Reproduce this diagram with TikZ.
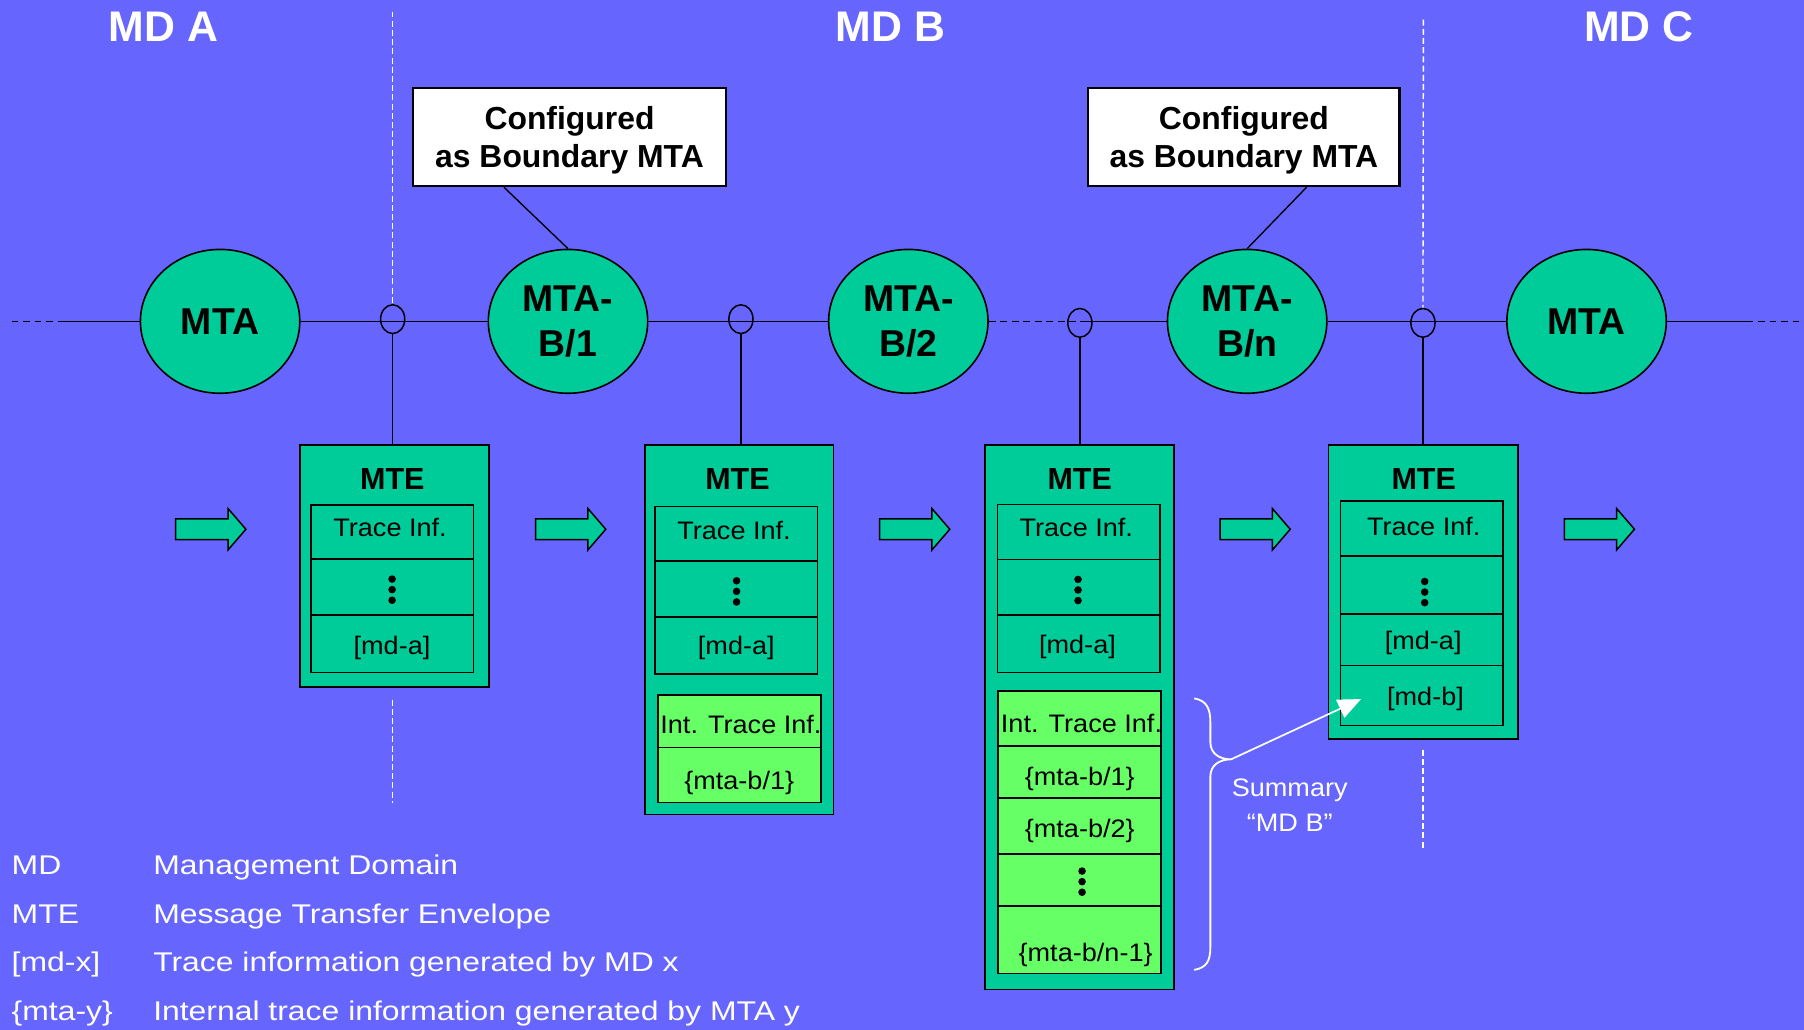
\documentclass[tikz,border=0pt]{standalone}
\usepackage{fontspec}
\setmainfont{Liberation Sans}
\newfontfamily\fA{Liberation Sans}[FakeStretch=1.07]
\newfontfamily\fB{Liberation Sans}[FakeStretch=1.18]
\usetikzlibrary{calc,shapes.geometric,arrows.meta}
\definecolor{bgblue}{HTML}{6666FF}
\definecolor{mgreen}{HTML}{00CC99}
\definecolor{lgreen}{HTML}{66FF66}
\tikzset{
  conn/.style={draw=black, line width=1.3pt},
  bound/.style={draw=white, line width=1.2pt, dash pattern=on 5.2pt off 2.8pt},
  mta/.style={ellipse, draw=black, line width=1.4pt, fill=mgreen, minimum width=138.5pt, minimum height=125pt, inner sep=0pt, align=center, font=\fontsize{32.5}{39}\selectfont\bfseries},
  knot/.style={ellipse, draw=black, line width=1.3pt, minimum width=21pt, minimum height=25pt, inner sep=0pt},
  callout/.style={rectangle, draw=black, line width=1.9pt, fill=white, inner sep=0pt, align=center, text depth=0pt, font=\fontsize{27.7}{32.5}\selectfont\bfseries},
  mtebox/.style={rectangle, draw=black, line width=1.5pt, fill=mgreen, inner sep=0pt},
  cellbox/.style={rectangle, draw=black, line width=1.5pt, fill=mgreen, inner sep=0pt},
  icellbox/.style={cellbox, fill=lgreen},
  ctext/.style={inner sep=0pt, font=\fA\fontsize{22}{26}\selectfont, text height=15.75pt, text depth=0pt},
  mtelabel/.style={inner sep=0pt, font=\fontsize{26.5}{30}\selectfont\bfseries, text height=19pt, text depth=0pt},
  title/.style={inner sep=0pt, text=white, font=\fontsize{37.2}{42}\selectfont\bfseries, text height=26.6pt, text depth=0pt},
  legl/.style={anchor=west, inner sep=0pt, text=white, font=\fB\fontsize{23.5}{28}\selectfont, text height=16.8pt, text depth=0pt},
  sumtext/.style={inner sep=0pt, text=white, font=\fA\fontsize{22}{26}\selectfont, text height=15.75pt, text depth=0pt},
  barrow/.style={draw=black, line width=1.3pt, fill=mgreen, line join=miter},
}
\newcommand\rectnode[6]{%
  \node[#1, minimum width={(#5)-(#3)}, minimum height={(#6)-(#4)}] (#2) at ({((#3)+(#5))/2},{((#4)+(#6))/2}) {};}
\newcommand\blockarrow[1]{%
  \filldraw[barrow] (#1,451) -- ++(45.5,0) -- ++(0,-9) -- ++(15.5,18) -- ++(-15.5,18) -- ++(0,-9) -- ++(-45.5,0) -- cycle;}
\newcommand\threedots[2]{%
  \fill[black] (#1,#2-9.2) circle (3.3pt);
  \fill[black] (#1,#2) circle (3.3pt);
  \fill[black] (#1,#2+9.2) circle (3.3pt);}
\begin{document}
\begin{tikzpicture}[x=1pt,y=-1pt]
\useasboundingbox (0,0) rectangle (1568,895);
\fill[bgblue] (0,0) rectangle (1568,895);

% titles
\node[title] (tA) at (142,22.9) {MD A};
\node[title] (tB) at (774,22.9) {MD B};
\node[title] (tC) at (1424.5,22.9) {MD C};

% MTA ellipses
\node[mta] (mtaA) at (191.3,279.3) {MTA};
\node[mta] (mtab1) at (493.7,279.3) {MTA-\\B/1};
\node[mta] (mtab2) at (789.5,279.3) {MTA-\\B/2};
\node[mta] (mtabn) at (1084,279.3) {MTA-\\B/n};
\node[mta] (mtaC) at (1379,279.3) {MTA};

% knots on the line
\node[knot] (k1) at (341.3,277.4) {};
\node[knot] (k2) at (644,277.4) {};
\node[knot] (k3) at (938.6,280.6) {};
\node[knot] (k4) at (1236.8,280.6) {};

% main line
\coordinate (l0) at (10,279.3);
\coordinate (l1) at (55,279.3);
\coordinate (r1) at (1518,279.3);
\coordinate (r2) at (1568,279.3);
\draw[conn, dash pattern=on 6pt off 4pt] (l0) -- (l1);
\draw[conn] (l1) -- (mtaA.west);
\draw[conn] (mtaA.east) -- (mtab1.west);
\draw[conn] (mtab1.east) -- (mtab2.west);
\draw[conn, dash pattern=on 6pt off 4pt] (mtab2.east) -- (mtab2.east -| k3.center);
\draw[conn] (mtab2.east -| k3.center) -- (mtabn.west);
\draw[conn] (mtabn.east) -- (mtaC.west);
\draw[conn] (mtaC.east) -- (r1);
\draw[conn, dash pattern=on 6pt off 4pt] (r1) -- (r2);

% domain boundaries
\coordinate (d1top) at (341.3,10);
\coordinate (d1a) at (341,608);
\coordinate (d1b) at (341,698);
\coordinate (d2top) at (1237.2,17);
\coordinate (d2a) at (1236.8,651.5);
\coordinate (d2b) at (1236.8,738);
\draw[bound] (d1top) -- (k1.north);
\draw[bound] (d1a) -- (d1b);
\draw[bound] (d2top) -- (k4.north);
\draw[bound] (d2a) -- (d2b);

% callouts
\node[callout, minimum width=272.5pt, minimum height=85.5pt] (cfg1) at (495,119) {Configured\\as Boundary MTA};
\node[callout, minimum width=270.4pt, minimum height=85.5pt] (cfg2) at (1081.2,119) {Configured\\as Boundary MTA};
\draw[black, line width=1.2pt] ($(cfg1.south)+(-57,0)$) -- (mtab1.north);
\draw[black, line width=1.2pt] ($(cfg2.south)+(54.5,0)$) -- (mtabn.north);

% MTE boxes
\rectnode{mtebox}{mte1}{261}{387}{425}{597}
\rectnode{mtebox}{mte2}{560.3}{387}{724.5}{708}
\rectnode{mtebox}{mte3}{856}{387}{1020.3}{860}
\rectnode{mtebox}{mte4}{1154.6}{387}{1319.4}{642.5}

% connectors knots -> MTE
\draw[conn] (k1.south) -- (k1.south |- mte1.north);
\draw[conn] (k2.south) -- (k2.south |- mte2.north);
\draw[conn] (k3.south) -- (k3.south |- mte3.north);
\draw[conn] (k4.south) -- (k4.south |- mte4.north);

% MTE 1 cells
\rectnode{cellbox}{m1a}{270}{439}{411.5}{486}
\rectnode{cellbox}{m1b}{270}{486}{411.5}{534.5}
\rectnode{cellbox}{m1c}{270}{534.5}{411.5}{584.5}
% MTE 2 cells
\rectnode{cellbox}{m2a}{569.3}{440.3}{710.5}{487.5}
\rectnode{cellbox}{m2b}{569.3}{487.5}{710.5}{536.1}
\rectnode{cellbox}{m2c}{569.3}{536.1}{710.5}{586}
\rectnode{icellbox}{m2d}{571.8}{604}{713.5}{649.8}
\rectnode{icellbox}{m2e}{571.8}{649.8}{713.5}{697.4}
% MTE 3 cells
\rectnode{cellbox}{m3a}{867}{438.6}{1008.3}{486.2}
\rectnode{cellbox}{m3b}{867}{486.2}{1008.3}{534.7}
\rectnode{cellbox}{m3c}{867}{534.7}{1008.3}{584.6}
\rectnode{icellbox}{m3d}{867.3}{600.3}{1009.3}{648.5}
\rectnode{icellbox}{m3e}{867.3}{648.5}{1009.3}{693.8}
\rectnode{icellbox}{m3f}{867.3}{693.8}{1009.3}{742.3}
\rectnode{icellbox}{m3g}{867.3}{742.3}{1009.3}{787.5}
\rectnode{icellbox}{m3h}{867.3}{787.5}{1009.3}{846.1}
% MTE 4 cells
\rectnode{cellbox}{m4a}{1165.1}{435.3}{1306.4}{483.5}
\rectnode{cellbox}{m4b}{1165.1}{483.5}{1306.4}{533.4}
\rectnode{cellbox}{m4c}{1165.1}{533.4}{1306.4}{578.4}
\rectnode{cellbox}{m4d}{1165.1}{578.4}{1306.4}{630.5}

% MTE texts
\node[mtelabel] (lab1) at (341,415.8) {MTE};
\node[mtelabel] (lab2) at (641,415.8) {MTE};
\node[mtelabel] (lab3) at (938.5,415.8) {MTE};
\node[mtelabel] (lab4) at (1237.5,415.8) {MTE};

\node[ctext] (t1a) at (339,458) {Trace Inf.};
\threedots{340.8}{512.5}
\node[ctext] (t1c) at (340.7,560.6) {[md-a]};

\node[ctext] (t2a) at (638,461) {Trace Inf.};
\threedots{640.2}{514}
\node[ctext] (t2c) at (640,561) {[md-a]};
\node[ctext] (t2d) at (644,630) {Int. Trace Inf.};
\node[ctext] (t2e) at (642.5,678) {\{mta-b/1\}};

\node[ctext] (t3a) at (935.5,458) {Trace Inf.};
\threedots{937}{512.8}
\node[ctext] (t3c) at (936.5,560.5) {[md-a]};
\node[ctext] (t3d) at (940,629.2) {Int. Trace Inf.};
\node[ctext] (t3e) at (938.5,674.8) {\{mta-b/1\}};
\node[ctext] (t3f) at (938.5,719.7) {\{mta-b/2\}};
\threedots{940.5}{766.3}
\node[ctext] (t3h) at (943.6,827.8) {\{mta-b/n-1\}};

\node[ctext] (t4a) at (1237.5,457.5) {Trace Inf.};
\threedots{1238.3}{514.6}
\node[ctext] (t4c) at (1237,556.7) {[md-a]};
\node[ctext] (t4d) at (1239,605) {[md-b]};

% block arrows
\blockarrow{152.7}
\blockarrow{465.5}
\blockarrow{764.5}
\blockarrow{1060.4}
\blockarrow{1359.6}

% summary brace
\coordinate (btip) at (1070,660);
\draw[white, line width=1.6pt] (1038,607) .. controls (1049,609) and (1052,616) .. (1052,628) -- (1052,645) .. controls (1052,655) and (1060,660) .. (btip) .. controls (1060,660) and (1052,665) .. (1052,675) -- (1052,823) .. controls (1052,835) and (1049,841) .. (1038,843);
\coordinate (sumtip) at (1183,607.6);
\draw[white, line width=1.5pt, -{Triangle[length=20pt,width=17pt]}] (btip) -- (sumtip);
\node[sumtext] (sum1) at (1121,684) {Summary};
\node[sumtext] (sum2) at (1121,714.5) {“MD B”};

% legend
\node[legl] (lg1a) at (10,751.4) {MD};
\node[legl] (lg1b) at (133,751.4) {Management Domain};
\node[legl] (lg2a) at (10,794.2) {MTE};
\node[legl] (lg2b) at (133,794.2) {Message Transfer Envelope};
\node[legl] (lg3a) at (10,835.6) {[md-x]};
\node[legl] (lg3b) at (133,835.6) {Trace information generated by MD x};
\node[legl] (lg4a) at (10,878.2) {\{mta-y\}};
\node[legl] (lg4b) at (133,878.2) {Internal trace information generated by MTA y};
\end{tikzpicture}
\end{document}
